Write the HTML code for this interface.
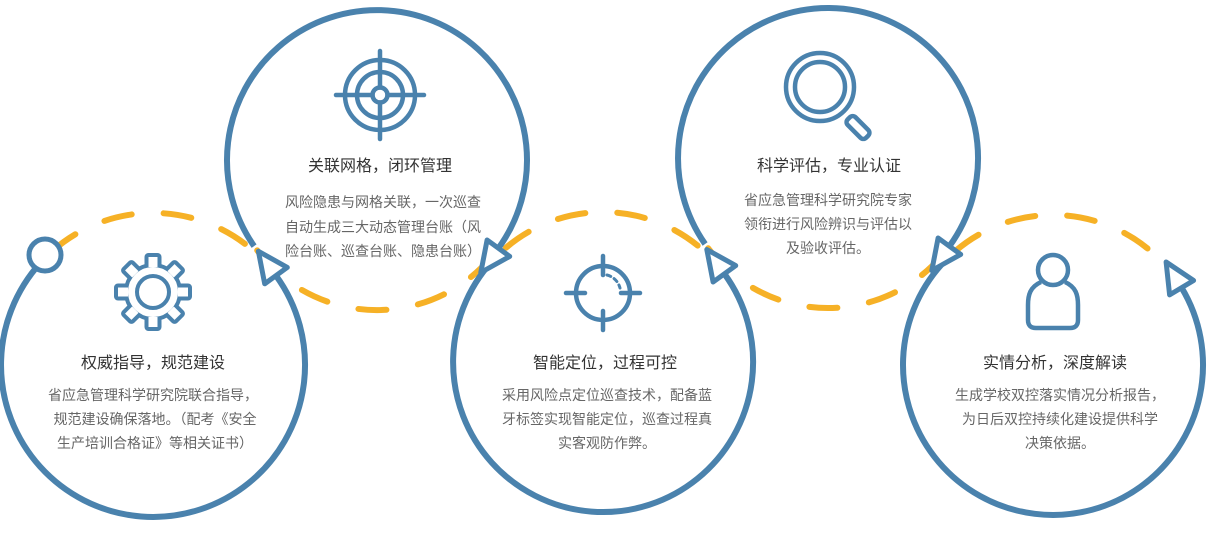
<!DOCTYPE html>
<html><head><meta charset="utf-8"><style>
html,body{margin:0;padding:0;background:#fff;width:1207px;height:537px;overflow:hidden}
svg{display:block}
.t{font-family:"Liberation Sans","Noto Sans CJK SC",sans-serif;font-size:16px;fill:#333;text-anchor:middle}
.b{font-family:"Liberation Sans","Noto Sans CJK SC",sans-serif;font-size:14px;fill:#666;text-anchor:middle}
</style></head><body>
<svg width="1207" height="537" viewBox="0 0 1207 537" xmlns="http://www.w3.org/2000/svg">
<g fill="none" stroke="#f6b126" stroke-width="6" stroke-linecap="round" stroke-dasharray="28 32">
<path d="M45.5,257.5 A152,152 0 0 1 276,275.6" stroke-dashoffset="-10"/>
<path d="M498.4,248.2 A150,150 0 0 1 254.1,246.1" stroke-dashoffset="-12"/>
<path d="M497,256 A150,150 0 0 1 724.4,273.8" stroke-dashoffset="-12"/>
<path d="M949.4,246.2 A150,150 0 0 1 705.1,244" stroke-dashoffset="-12"/>
<path d="M946.9,258.9 A150,150 0 0 1 1181.6,287.7" stroke-dashoffset="-12"/>
</g>
<g fill="none" stroke="#4a82ad" stroke-width="6">
<path d="M45.5,257.5 A152,152 0 1 0 276,275.6"/>
<path d="M254.1,246.1 A150,150 0 1 1 498.4,248.2"/>
<path d="M497,256 A150,150 0 1 0 724.4,273.8"/>
<path d="M705.1,244 A150,150 0 1 1 949.4,246.2"/>
<path d="M946.9,258.9 A150,150 0 1 0 1181.6,287.7"/>
</g>
<g fill="#fff" stroke="#4a82ad" stroke-width="5" stroke-linejoin="round">
<circle cx="45" cy="255" r="16"/>
<polygon points="258.4,251.3 287.3,267.4 264.7,283.8"/>
<polygon points="480.8,272.5 509.7,256.4 487.1,240"/>
<polygon points="706.8,249.5 735.7,265.6 713.1,282"/>
<polygon points="931.8,270.5 960.7,254.4 938.1,238"/>
<polygon points="1166.1,262 1193.6,280.5 1169.6,294.9"/>
</g>
<!-- gear -->
<g stroke="#4a82ad" stroke-width="4" fill="#fff" stroke-linejoin="round" transform="translate(153,292)">
<circle r="27"/>
<g id="tooth"><rect x="-6.5" y="-37" width="13" height="14" rx="2"/></g>
<rect x="-6.5" y="-37" width="13" height="14" rx="2" transform="rotate(45)"/>
<rect x="-6.5" y="-37" width="13" height="14" rx="2" transform="rotate(90)"/>
<rect x="-6.5" y="-37" width="13" height="14" rx="2" transform="rotate(135)"/>
<rect x="-6.5" y="-37" width="13" height="14" rx="2" transform="rotate(180)"/>
<rect x="-6.5" y="-37" width="13" height="14" rx="2" transform="rotate(225)"/>
<rect x="-6.5" y="-37" width="13" height="14" rx="2" transform="rotate(270)"/>
<rect x="-6.5" y="-37" width="13" height="14" rx="2" transform="rotate(315)"/>
<circle r="25" stroke="none"/>
<circle r="16"/>
</g>
<!-- target -->
<g stroke="#4a82ad" stroke-width="4.5" fill="none" stroke-linecap="round">
<circle cx="380" cy="95" r="35"/><circle cx="380" cy="95" r="23"/><circle cx="380" cy="95" r="7.5"/>
<line x1="380" y1="51" x2="380" y2="87.5"/><line x1="380" y1="102.5" x2="380" y2="139"/>
<line x1="336" y1="95" x2="372.5" y2="95"/><line x1="387.5" y1="95" x2="424" y2="95"/>
</g>
<!-- crosshair -->
<g stroke="#4a82ad" stroke-width="4.5" fill="none" stroke-linecap="round">
<circle cx="603" cy="293" r="27"/>
<line x1="603" y1="256" x2="603" y2="275"/><line x1="603" y1="311" x2="603" y2="330"/>
<line x1="566" y1="293" x2="585" y2="293"/><line x1="621" y1="293" x2="640" y2="293"/>
<path d="M607,275 A18,18 0 0 1 620,288" stroke-width="3" stroke-dasharray="4 4"/>
</g>
<!-- magnifier -->
<g stroke="#4a82ad" stroke-width="4.5" fill="none" stroke-linejoin="round">
<circle cx="820" cy="87" r="34"/><circle cx="820" cy="87" r="25"/>
<rect x="845" y="122" width="26" height="11" rx="4" transform="rotate(45 858 127.5)"/>
</g>
<!-- person -->
<g stroke="#4a82ad" stroke-width="4.5" fill="none">
<circle cx="1053" cy="270" r="15"/>
<path d="M1041,282 C1030,287 1028,295 1028,305 L1028,320 Q1028,328 1036,328 L1070,328 Q1078,328 1078,320 L1078,305 C1078,295 1076,287 1065,282"/>
</g>
<text class="t" x="153" y="368">权威指导，规范建设</text>
<text class="b" x="153" y="400">省应急管理科学研究院联合指导，</text>
<text class="b" x="155" y="424">规范建设确保落地。（配考《安全</text>
<text class="b" x="155" y="448">生产培训合格证》等相关证书）</text>
<text class="t" x="380" y="171">关联网格，闭环管理</text>
<text class="b" x="383" y="207">风险隐患与网格关联，一次巡查</text>
<text class="b" x="383" y="232">自动生成三大动态管理台账（风</text>
<text class="b" x="383" y="256">险台账、巡查台账、隐患台账）</text>
<text class="t" x="605" y="368">智能定位，过程可控</text>
<text class="b" x="607" y="400">采用风险点定位巡查技术，配备蓝</text>
<text class="b" x="607" y="424">牙标签实现智能定位，巡查过程真</text>
<text class="b" x="607" y="448">实客观防作弊。</text>
<text class="t" x="829" y="171">科学评估，专业认证</text>
<text class="b" x="828" y="205">省应急管理科学研究院专家</text>
<text class="b" x="828" y="229">领衔进行风险辨识与评估以</text>
<text class="b" x="828" y="253">及验收评估。</text>
<text class="t" x="1055" y="368">实情分析，深度解读</text>
<text class="b" x="1060" y="400">生成学校双控落实情况分析报告，</text>
<text class="b" x="1060" y="424">为日后双控持续化建设提供科学</text>
<text class="b" x="1060" y="448">决策依据。</text>
</svg>
</body></html>
